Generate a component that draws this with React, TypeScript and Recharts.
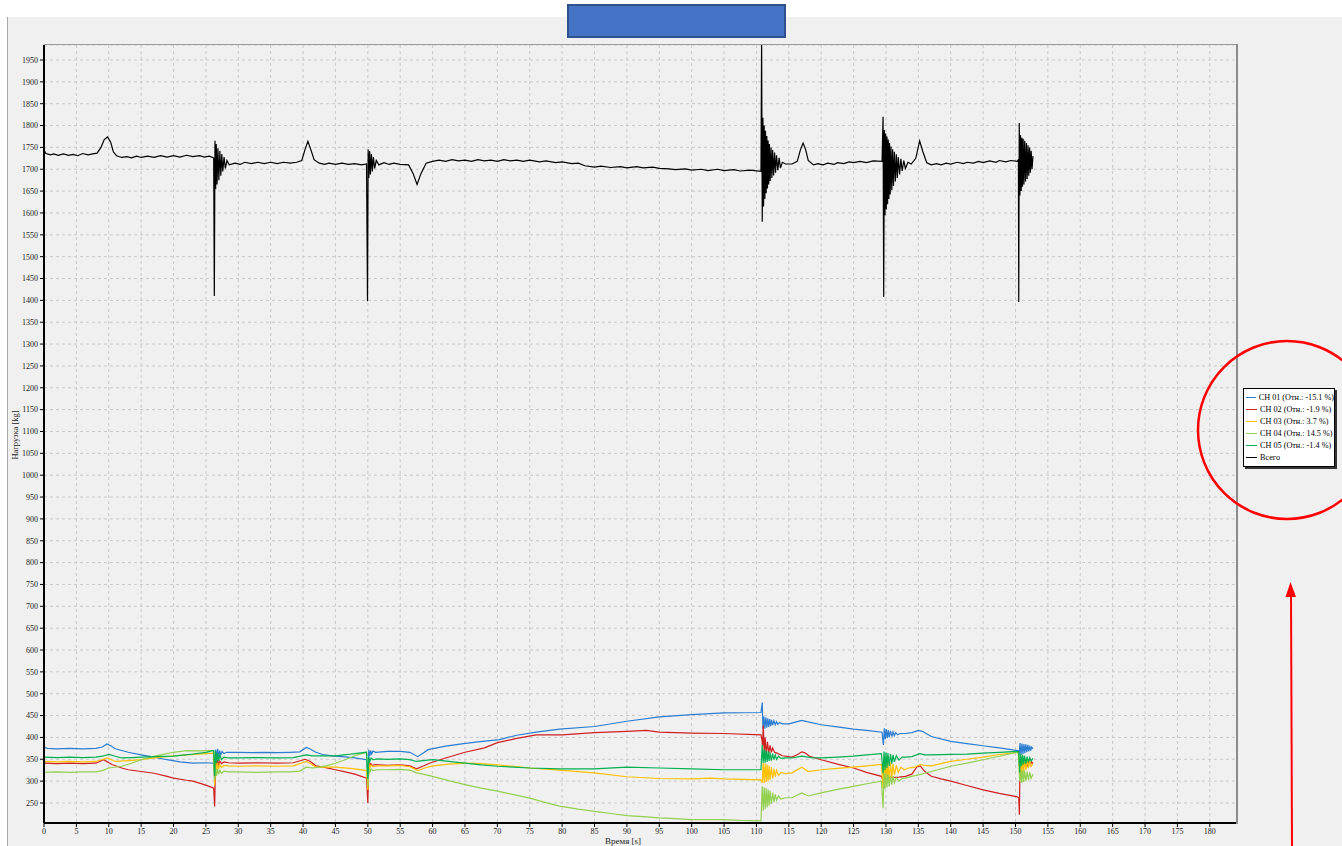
import React from 'react';
import { LineChart, Line, XAxis, YAxis, CartesianGrid, Legend } from 'recharts';

type Pt = [number, number];

// time [s], load [kg]
const CH01: Pt[] = [
  [0, 378], [0.5, 375], [2, 374], [4, 375], [6, 374], [8, 375], [9, 378], [9.7, 385], [10.3, 381], [11, 374],
  [13, 366], [15, 360], [17, 355], [19, 349], [21, 344], [23, 341], [25, 342], [26.2, 341],
  [26.35, 300], [26.5, 372], [26.65, 352], [26.8, 374], [26.95, 356], [27.1, 370], [27.3, 360], [27.5, 368],
  [27.8, 363], [28.2, 366], [30, 366], [32, 365], [34, 366], [36, 365], [38, 366], [39.5, 367], [40.5, 377],
  [41, 374], [42, 366], [43, 361], [44.5, 358], [46, 356], [48, 353], [49.8, 349],
  [50, 303], [50.15, 372], [50.3, 358], [50.45, 370], [50.6, 362], [50.8, 369], [51.2, 366], [53, 368],
  [55, 368], [56.5, 366], [57.7, 356], [58.5, 364], [59.3, 372], [62, 380], [64.8, 386], [67, 390],
  [70.3, 395], [73, 405], [76, 412], [79.6, 419], [85, 425], [90, 437], [95, 447], [100, 452], [105, 456],
  [110.7, 457],
  [110.9, 480], [111.0, 420], [111.15, 448], [111.3, 420], [111.45, 446], [111.6, 422], [111.75, 444],
  [111.9, 424], [112.05, 442], [112.2, 426], [112.35, 440], [112.5, 428], [112.7, 438], [112.9, 429],
  [113.1, 436], [113.3, 430], [113.6, 434], [114, 431], [115, 431], [116, 435], [117, 439], [117.8, 436],
  [120, 429], [122.5, 424], [125, 419], [127, 416], [129.4, 412],
  [129.6, 383], [129.75, 421], [129.9, 396], [130.05, 419], [130.2, 398], [130.35, 417], [130.5, 400],
  [130.7, 415], [130.9, 402], [131.1, 413], [131.3, 404], [131.5, 411], [131.8, 406], [132.2, 409],
  [133, 409], [134, 411], [135, 416], [135.6, 414], [137, 402], [140, 391], [142.5, 386], [145, 381],
  [147.5, 376], [150.4, 370],
  [150.55, 357], [150.7, 387], [150.85, 360], [151, 386], [151.15, 362], [151.3, 385], [151.45, 364],
  [151.6, 384], [151.75, 366], [151.9, 383], [152.05, 368], [152.2, 381], [152.35, 370], [152.5, 378],
  [152.7, 374],
];

const CH02: Pt[] = [
  [0, 341], [2, 340], [4, 341], [6, 340], [8, 341], [9.2, 349], [10.5, 338], [12, 330], [13, 326], [15, 322],
  [17, 318], [19, 311], [20, 307], [22, 302], [23, 300], [24.5, 293], [25.5, 288], [26.2, 284],
  [26.35, 242], [26.5, 350], [26.65, 336], [26.8, 348], [26.95, 338], [27.15, 346], [27.4, 340], [27.8, 344],
  [28.5, 342], [30, 341], [33, 342], [36, 341], [38.5, 342], [40.3, 350], [41, 346], [42, 335], [43.5, 331],
  [45, 326], [46.5, 321], [48, 316], [49.8, 307],
  [50, 250], [50.15, 342], [50.3, 334], [50.45, 340], [50.7, 336], [51.2, 338], [53, 336], [55, 337],
  [56.5, 335], [57.5, 328], [58.5, 334], [59.5, 341], [62, 353], [65, 366], [68, 376], [70, 388], [73, 398],
  [76, 406], [80, 406], [85, 411], [90, 414], [93, 416], [95, 412], [100, 410], [105, 409], [110.7, 406],
  [110.85, 395], [110.95, 380], [111.05, 428], [111.2, 368], [111.35, 400], [111.5, 360], [111.7, 390],
  [111.9, 364], [112.1, 382], [112.3, 366], [112.5, 376], [112.8, 366], [113.2, 364], [114, 358],
  [115.5, 355], [116.5, 362], [117, 367], [117.5, 365], [118.2, 357], [120, 349], [122.5, 339], [125, 330],
  [127, 320], [129.3, 311],
  [129.55, 300], [129.7, 318], [129.9, 306], [130.2, 310], [131, 308], [132, 309], [133, 311], [134, 316],
  [134.8, 333], [135.3, 335], [136, 322], [137, 311], [138.5, 305], [140, 300], [142.5, 290], [145, 280],
  [147.5, 272], [150.3, 264],
  [150.5, 262], [150.6, 223], [150.7, 355], [150.85, 326], [151, 352], [151.15, 330], [151.3, 350],
  [151.5, 333], [151.7, 348], [151.9, 336], [152.1, 346], [152.3, 338], [152.5, 344], [152.7, 340],
];

const CH03: Pt[] = [
  [0, 345], [2, 344], [4, 345], [6, 344], [8, 345], [9.8, 353], [11, 345], [13, 347], [15, 349], [17, 353],
  [20, 358], [22, 360], [25, 363], [26.2, 364],
  [26.35, 290], [26.5, 345], [26.65, 325], [26.8, 342], [26.95, 328], [27.15, 338], [27.4, 331], [27.8, 336],
  [28.5, 335], [30, 334], [33, 335], [36, 334], [38.5, 335], [40.5, 345], [41.2, 340], [42, 332], [45, 332],
  [48, 328], [49.8, 324],
  [50, 280], [50.15, 340], [50.3, 330], [50.5, 337], [50.8, 333], [51.5, 335], [53, 335], [55, 336],
  [56.5, 333], [57.7, 324], [58.8, 330], [60, 335], [62.5, 339], [65, 341], [67.5, 340], [70, 337],
  [72.5, 334], [75, 330], [79.6, 325], [85, 319], [90, 310], [95, 306], [100, 305], [103, 307], [105, 305],
  [110.7, 303],
  [110.9, 296], [111.05, 342], [111.2, 296], [111.35, 340], [111.5, 298], [111.65, 338], [111.8, 300],
  [111.95, 335], [112.1, 303], [112.3, 332], [112.5, 306], [112.7, 328], [112.9, 310], [113.1, 325],
  [113.4, 313], [113.8, 320], [114.5, 317], [115.5, 319], [117, 332], [118, 322], [120, 326], [122.5, 329],
  [125, 332], [127, 335], [129.3, 338],
  [129.55, 284], [129.7, 349], [129.85, 290], [130, 347], [130.15, 296], [130.3, 345], [130.5, 302],
  [130.7, 342], [130.9, 308], [131.1, 339], [131.3, 314], [131.6, 336], [131.9, 320], [132.3, 332],
  [132.8, 326], [133.5, 330], [134.5, 332], [135.3, 338], [136, 336], [137, 335], [140, 345], [142.5, 350],
  [145, 355], [147.5, 361], [150.3, 366],
  [150.5, 360], [150.65, 300], [150.8, 358], [150.95, 315], [151.1, 356], [151.25, 320], [151.4, 353],
  [151.6, 325], [151.8, 350], [152, 330], [152.2, 346], [152.4, 334], [152.7, 340],
];

const CH04: Pt[] = [
  [0, 320], [2, 321], [4, 320], [6, 321], [8, 321], [9, 324], [10, 330], [12, 334], [13.5, 341], [15, 349],
  [16.5, 355], [18, 360], [20, 366], [22, 370], [24, 369], [25.5, 370], [26.2, 370],
  [26.35, 303], [26.5, 330], [26.65, 312], [26.8, 328], [26.95, 316], [27.15, 325], [27.4, 318], [27.8, 323],
  [28.5, 321], [30, 321], [33, 320], [36, 321], [38, 321], [39.5, 323], [40.5, 332], [41.5, 330],
  [42.5, 332], [43.5, 335], [45, 341], [46.5, 349], [48, 358], [49.8, 366],
  [50, 288], [50.15, 330], [50.3, 320], [50.5, 328], [50.8, 324], [51.5, 326], [53, 326], [55, 327],
  [56.5, 325], [57.5, 319], [58.5, 316], [60, 311], [62.5, 301], [65, 292], [67.5, 284], [70, 277],
  [72.5, 269], [75, 261], [77.5, 251], [79.6, 243], [82.5, 236], [85, 231], [87.5, 226], [90, 221],
  [92.5, 219], [95, 216], [97.5, 214], [100, 212], [102.5, 212], [105, 212], [107.5, 210], [110.7, 209],
  [110.9, 288], [111.05, 232], [111.2, 286], [111.35, 236], [111.5, 284], [111.65, 240], [111.8, 281],
  [111.95, 244], [112.1, 278], [112.3, 248], [112.5, 274], [112.7, 252], [112.9, 270], [113.1, 256],
  [113.4, 266], [113.8, 259], [114.5, 262], [115.5, 262], [117, 273], [118, 266], [120, 273], [122.5, 281],
  [125, 288], [127, 294], [129.3, 300],
  [129.55, 238], [129.7, 320], [129.85, 282], [130, 318], [130.15, 285], [130.3, 316], [130.5, 288],
  [130.7, 313], [130.9, 292], [131.1, 311], [131.3, 296], [131.6, 308], [132, 300], [132.5, 306], [133, 307],
  [134, 311], [135.2, 315], [136, 318], [137, 322], [140, 334], [142.5, 341], [145, 349], [147.5, 357],
  [150.3, 366],
  [150.5, 362], [150.65, 300], [150.8, 326], [150.95, 296], [151.1, 325], [151.25, 298], [151.4, 324],
  [151.6, 300], [151.8, 322], [152, 303], [152.2, 320], [152.4, 306], [152.7, 316],
];

const CH05: Pt[] = [
  [0, 355], [2, 354], [4, 355], [6, 354], [8, 355], [9, 357], [10, 361], [11, 357], [12, 353], [13.5, 354],
  [15, 355], [17, 356], [20, 357], [22.5, 361], [25, 366], [26.2, 370],
  [26.35, 312], [26.5, 368], [26.65, 342], [26.8, 364], [26.95, 346], [27.15, 360], [27.4, 349], [27.8, 355],
  [28.5, 353], [30, 353], [33, 354], [36, 353], [38.5, 354], [40.5, 360], [41.5, 358], [42, 358], [45, 358],
  [47, 361], [48, 363], [49.8, 366],
  [50, 305], [50.15, 356], [50.3, 345], [50.5, 353], [50.8, 349], [51.5, 351], [53, 350], [55, 351],
  [56.5, 349], [57.5, 345], [58.5, 347], [60, 349], [62.5, 345], [65, 341], [67.5, 337], [70, 334],
  [72.5, 332], [75, 330], [79.6, 328], [85, 328], [90, 332], [95, 330], [100, 328], [105, 326], [110.7, 326],
  [110.9, 383], [111.05, 342], [111.2, 372], [111.35, 342], [111.5, 370], [111.65, 344], [111.8, 368],
  [111.95, 346], [112.1, 366], [112.3, 347], [112.5, 363], [112.7, 349], [112.9, 360], [113.1, 350],
  [113.4, 357], [113.8, 352], [114.5, 353], [115.5, 353], [117, 357], [118.5, 354], [120, 353], [122.5, 355],
  [125, 357], [127, 360], [129.3, 363],
  [129.55, 318], [129.7, 368], [129.85, 325], [130, 366], [130.15, 330], [130.3, 364], [130.5, 335],
  [130.7, 362], [130.9, 340], [131.1, 360], [131.3, 344], [131.6, 358], [132, 348], [132.5, 355], [133, 355],
  [134, 356], [135.2, 363], [136, 360], [137, 360], [140, 361], [142.5, 362], [145, 364], [147.5, 366],
  [150.3, 368],
  [150.5, 366], [150.65, 320], [150.8, 362], [150.95, 335], [151.1, 360], [151.25, 338], [151.4, 358],
  [151.6, 340], [151.8, 356], [152, 343], [152.2, 354], [152.4, 346], [152.7, 352],
];

const TOTAL: Pt[] = [
  [0, 1744], [0.3, 1736], [1, 1733], [1.5, 1735], [2.2, 1732], [3, 1735], [3.8, 1732], [4.5, 1734],
  [5.2, 1731], [6, 1736], [6.8, 1733], [7.5, 1735], [8.2, 1737],
  [8.8, 1750], [9.3, 1768], [9.8, 1774], [10.3, 1762], [10.7, 1740], [11.2, 1731], [12, 1727], [12.8, 1729],
  [13.5, 1726], [14.3, 1730], [15, 1727], [16, 1730], [17, 1727], [18, 1731], [19, 1728], [20, 1731],
  [21, 1728], [22, 1732], [23, 1729], [24, 1731], [24.8, 1728], [25.5, 1730], [26.2, 1726],
  [26.3, 1410], [26.4, 1765], [26.5, 1655], [26.6, 1758], [26.72, 1665], [26.85, 1748], [27, 1675],
  [27.15, 1742], [27.3, 1685], [27.45, 1735], [27.6, 1695], [27.8, 1728], [28, 1702], [28.25, 1720],
  [28.6, 1710], [29.5, 1714], [30.3, 1711], [31, 1716], [32, 1713], [33, 1716], [34, 1713], [35, 1716],
  [36, 1713], [37, 1716], [38, 1714], [39, 1716], [39.8, 1720],
  [40.3, 1745], [40.75, 1764], [41.2, 1745], [41.7, 1722], [42.5, 1714], [43.3, 1711], [44, 1714],
  [45, 1711], [46, 1714], [47, 1711], [48, 1713], [49, 1710], [49.8, 1712],
  [49.95, 1398], [50.05, 1745], [50.15, 1680], [50.28, 1742], [50.4, 1688], [50.55, 1735], [50.7, 1695],
  [50.85, 1728], [51.05, 1702], [51.3, 1720], [51.7, 1710], [52.5, 1715], [53.3, 1711], [54, 1714],
  [55, 1711], [56.3, 1710], [57, 1690],
  [57.6, 1665], [58.2, 1690], [59, 1714], [60, 1718], [61, 1721], [62, 1718], [63, 1722], [64, 1719],
  [65, 1721], [66, 1718], [67, 1722], [68, 1719], [69, 1721], [70, 1718], [71, 1722], [72, 1719],
  [73, 1721], [74, 1718], [75, 1721], [76.5, 1717], [77.5, 1719], [79, 1715], [80, 1717], [81.5, 1713],
  [82.5, 1714], [83.5, 1708], [85, 1705], [86, 1707], [87.5, 1704], [89, 1706], [90, 1703], [91.5, 1706],
  [92.5, 1703], [94, 1705], [95, 1702], [96.5, 1701], [97.5, 1699], [99, 1701], [100, 1698], [101.5, 1700],
  [102.5, 1697], [104, 1700], [105, 1697], [106.5, 1699], [107.5, 1696], [109, 1698], [110.7, 1695],
  [110.8, 1990], [110.9, 1580], [111.0, 1818], [111.1, 1615], [111.2, 1800], [111.3, 1632], [111.4, 1788],
  [111.5, 1645], [111.6, 1776], [111.7, 1656], [111.8, 1766], [111.9, 1665], [112.0, 1758], [112.12, 1673],
  [112.25, 1750], [112.38, 1680], [112.5, 1744], [112.65, 1686], [112.8, 1738], [112.95, 1692],
  [113.1, 1732], [113.3, 1698], [113.5, 1726], [113.7, 1703], [114, 1716], [114.5, 1712], [115.5, 1712],
  [116.3, 1718], [116.8, 1745], [117.2, 1760], [117.6, 1745], [118, 1720], [118.8, 1710], [119.5, 1713],
  [120.3, 1710], [121, 1714], [122, 1711], [122.5, 1715], [123.5, 1713], [124.3, 1717], [125, 1715],
  [126, 1718], [127, 1715], [128, 1719], [129.4, 1718],
  [129.55, 1820], [129.65, 1408], [129.75, 1790], [129.85, 1595], [129.95, 1782], [130.05, 1608],
  [130.15, 1775], [130.25, 1620], [130.35, 1768], [130.45, 1632], [130.55, 1760], [130.65, 1642],
  [130.78, 1752], [130.9, 1652], [131.03, 1746], [131.16, 1662], [131.3, 1740], [131.45, 1672], [131.6, 1734],
  [131.75, 1680], [131.9, 1728], [132.1, 1688], [132.3, 1724], [132.5, 1696], [132.75, 1720], [133.0, 1702],
  [133.4, 1716], [133.9, 1712], [134.6, 1725], [135.2, 1765], [135.7, 1740], [136.3, 1715], [137, 1710],
  [137.8, 1713], [138.5, 1710], [139.3, 1714], [140, 1712], [141, 1716], [142, 1713], [142.5, 1716],
  [143.5, 1714], [144.3, 1718], [145, 1715], [146, 1719], [147, 1716], [147.5, 1720], [148.5, 1717],
  [149.3, 1720], [150.3, 1718],
  [150.45, 1722], [150.5, 1396], [150.58, 1806], [150.68, 1640], [150.78, 1778], [150.88, 1650],
  [150.98, 1772], [151.08, 1660], [151.18, 1770], [151.3, 1665], [151.42, 1765], [151.55, 1672],
  [151.68, 1760], [151.8, 1678], [151.93, 1755], [152.05, 1685], [152.18, 1750], [152.3, 1692],
  [152.42, 1742], [152.55, 1700], [152.7, 1730],
];

const SERIES_NAMES = [
  'CH 01 (Отн.: -15.1 %)',
  'CH 02 (Отн.: -1.9 %)',
  'CH 03 (Отн.: 3.7 %)',
  'CH 04 (Отн.: 14.5 %)',
  'CH 05 (Отн.: -1.4 %)',
  'Всего',
];
const SERIES_COLORS = ['#2a7dd1', '#d01f1f', '#ffc000', '#92d050', '#00b050', '#000000'];
const SERIES_DATA = [CH01, CH02, CH03, CH04, CH05, TOTAL];

const X_TICKS = Array.from({ length: 37 }, (_, i) => i * 5);
const Y_TICKS = Array.from({ length: 35 }, (_, i) => 250 + i * 50);

const FONT = '"Liberation Serif", "DejaVu Serif", serif';

function toRows(pts: Pt[]) {
  return pts.map(([t, v]) => ({ t, v }));
}

function LegendBox({ payload }: any) {
  return (
    <div style={{
      width: 92, background: '#fff', border: '1px solid #000', boxShadow: '2px 2px 0 #333',
      padding: '2px 0 3px 2px', fontFamily: FONT, fontSize: 8.2, color: '#000', boxSizing: 'border-box',
    }}>
      {(payload || []).map((p: any) => (
        <div key={p.value} style={{ display: 'flex', alignItems: 'center', height: 12, whiteSpace: 'nowrap' }}>
          <span style={{ display: 'inline-block', width: 11, height: 1, background: p.color, marginRight: 3 }} />
          <span>{p.value}</span>
        </div>
      ))}
    </div>
  );
}

export default function App() {
  const tickStyle = { fontSize: 8, fill: '#222', fontFamily: FONT };
  return (
    <div style={{ position: 'absolute', left: 0, top: 0, width: 1342, height: 846, background: '#fff', overflow: 'hidden' }}>
      <div style={{ position: 'absolute', left: 7, top: 17, right: 0, bottom: 0, background: '#f0f0f0', borderLeft: '1px solid #a8a8a8' }} />
      <div style={{ position: 'absolute', left: 567, top: 4, width: 215, height: 30, background: '#4472c4', border: '2px solid #2f528f' }} />
      <div style={{ position: 'absolute', left: 0, top: 0 }}>
        <LineChart width={1342} height={846} margin={{ top: 45, right: 105, bottom: 0, left: 0 }}>
          <CartesianGrid stroke="#c9c9c9" strokeDasharray="3 3" />
          <XAxis
            type="number" dataKey="t" domain={[0, 184.2]} ticks={X_TICKS} allowDataOverflow
            height={23} tick={tickStyle} tickSize={4} tickMargin={1}
            axisLine={{ stroke: '#000', strokeWidth: 2 }} tickLine={{ stroke: '#000' }}
            interval={0}
          />
          <YAxis
            type="number" domain={[204.2, 1984.3]} ticks={Y_TICKS} allowDataOverflow
            width={44} tick={tickStyle} tickSize={4} tickMargin={2}
            axisLine={{ stroke: '#000', strokeWidth: 2 }} tickLine={{ stroke: '#000' }}
            interval={0}
          />
          {SERIES_DATA.map((d, i) => (
            <Line
              key={SERIES_NAMES[i]} data={toRows(d)} dataKey="v" name={SERIES_NAMES[i]}
              type="linear" stroke={SERIES_COLORS[i]} strokeWidth={1.2} dot={false}
              activeDot={false} isAnimationActive={false}
            />
          ))}
          <Legend
            layout="vertical" align="center" verticalAlign="middle"
            wrapperStyle={{ left: 1243, top: 388, width: 'auto', height: 'auto' }}
            content={<LegendBox />}
          />
        </LineChart>
      </div>
      {/* plot frame (top / right) */}
      <div style={{ position: 'absolute', left: 44, top: 44, width: 1194, height: 1, background: '#9a9a9a' }} />
      <div style={{ position: 'absolute', left: 1236, top: 44, width: 2, height: 780, background: '#8c8c8c' }} />
      <svg width={1342} height={846} style={{ position: 'absolute', left: 0, top: 0, pointerEvents: 'none' }}>
        <text x={623} y={844} textAnchor="middle" fontSize={9} fontFamily={FONT} fill="#222">Время  [s]</text>
        <text x={16} y={435} textAnchor="middle" fontSize={8.5} fontFamily={FONT} fill="#222"
          transform="rotate(-90 16 435)" dominantBaseline="middle">Нагрузка  [kg]</text>
        <circle cx={1287} cy={430} r={89} fill="none" stroke="#ff0000" strokeWidth={2.5} />
        <line x1={1292} y1={846} x2={1291} y2={594} stroke="#ff0000" strokeWidth={2} />
        <polygon points="1290.5,582 1285.5,597 1296,597" fill="#ff0000" />
      </svg>
    </div>
  );
}
